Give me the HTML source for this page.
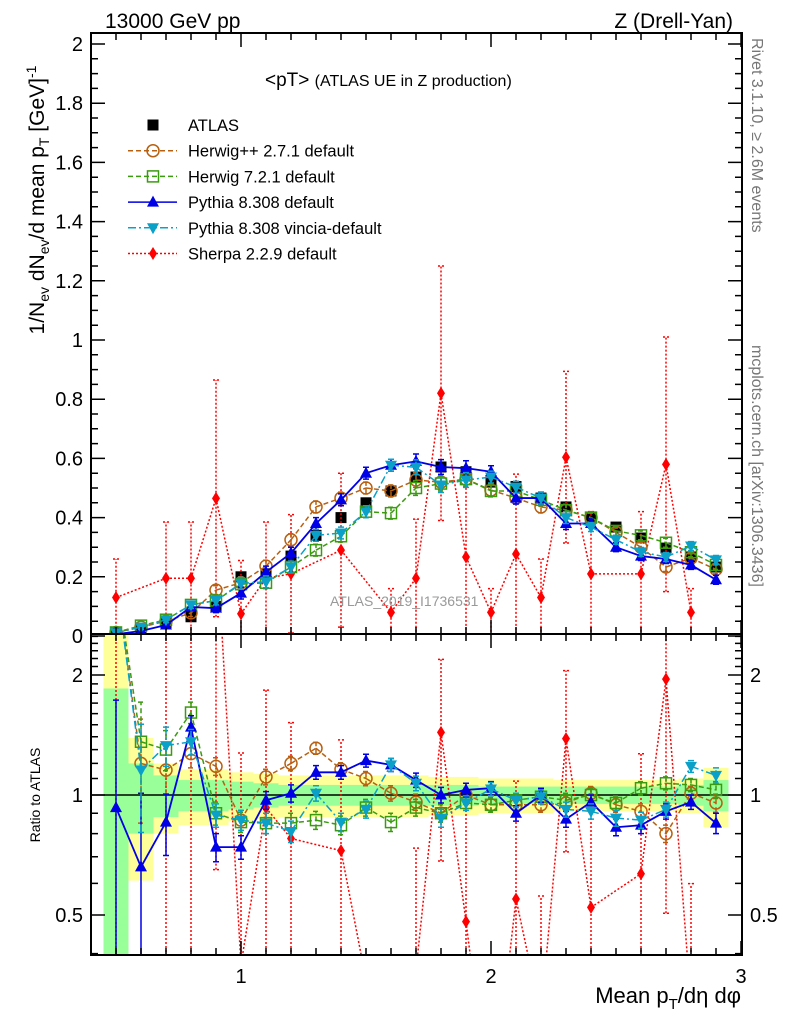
<!DOCTYPE html>
<html><head><meta charset="utf-8"><style>
html,body{margin:0;padding:0;background:#fff;width:786px;height:1024px;overflow:hidden}
svg{display:block;font-family:"Liberation Sans",sans-serif}
</style></head><body>
<svg id="c" width="786" height="1024" viewBox="0 0 786 1024">
<defs>
<clipPath id="cm"><rect x="91" y="33" width="651" height="601"/></clipPath>
<clipPath id="cr"><rect x="91" y="634" width="651" height="321"/></clipPath>
</defs>
<g id="bands" clip-path="url(#cr)"></g>
<g id="mainMarks" clip-path="url(#cm)"></g>
<g id="ratioMarks" clip-path="url(#cr)"></g>
<g id="axes"></g>
<text x="105" y="28" font-size="21">13000 GeV pp</text>
<text x="733" y="28" font-size="21" text-anchor="end">Z (Drell-Yan)</text>
<text x="265" y="86" font-size="19">&lt;pT&gt; <tspan font-size="16">(ATLAS UE in Z production)</tspan></text>
<text x="330" y="606" font-size="14" fill="#999">ATLAS_2019_I1736531</text>
<text transform="translate(44,200) rotate(-90)" font-size="21" text-anchor="middle">1/N<tspan font-size="14" dy="5">ev</tspan><tspan dy="-5"> dN</tspan><tspan font-size="14" dy="5">ev</tspan><tspan dy="-5">/d mean p</tspan><tspan font-size="14" dy="5">T</tspan><tspan dy="-5"> [GeV]</tspan><tspan font-size="14" dy="-8">-1</tspan></text>
<text transform="translate(40,795) rotate(-90)" font-size="14" text-anchor="middle">Ratio to ATLAS</text>
<text x="741" y="1003" font-size="22" text-anchor="end">Mean p<tspan font-size="15" dy="6">T</tspan><tspan dy="-6">/dη dφ</tspan></text>
<text transform="translate(752,38) rotate(90)" font-size="16" fill="#777">Rivet 3.1.10, ≥ 2.6M events</text>
<text transform="translate(752,345) rotate(90)" font-size="16" fill="#777">mcplots.cern.ch [arXiv:1306.3436]</text>
<g id="legend"></g>
</svg>
<script>
const xs=[0.5,0.6,0.7,0.8,0.9,1.0,1.1,1.2,1.3,1.4,1.5,1.6,1.7,1.8,1.9,2.0,2.1,2.2,2.3,2.4,2.5,2.6,2.7,2.8,2.9];
const atlas=[0.01,0.025,0.045,0.065,0.1,0.2,0.21,0.27,0.34,0.40,0.45,0.49,0.537,0.571,0.555,0.52,0.505,0.466,0.436,0.402,0.368,0.331,0.297,0.267,0.233];
const herwigpp=[0.012,0.03,0.05,0.078,0.155,0.18,0.236,0.325,0.436,0.466,0.5,0.49,0.527,0.52,0.53,0.493,0.466,0.436,0.425,0.40,0.35,0.30,0.233,0.263,0.225];
const herwig7=[0.012,0.035,0.055,0.105,0.12,0.175,0.18,0.233,0.29,0.337,0.42,0.415,0.5,0.515,0.53,0.49,0.49,0.46,0.425,0.40,0.355,0.34,0.315,0.283,0.24];
const pythia=[0.006,0.017,0.037,0.098,0.094,0.145,0.216,0.28,0.38,0.46,0.55,0.577,0.59,0.571,0.567,0.555,0.466,0.466,0.38,0.38,0.30,0.27,0.26,0.24,0.19];
const vincia=[0.011,0.03,0.055,0.105,0.12,0.178,0.183,0.233,0.34,0.348,0.42,0.577,0.57,0.51,0.527,0.537,0.503,0.466,0.40,0.368,0.325,0.284,0.267,0.304,0.257];
const sherpa=[0.13,null,0.195,0.195,0.465,0.075,0.195,0.21,null,0.29,null,0.08,0.195,0.82,0.267,0.08,0.277,0.13,0.604,0.21,null,0.21,0.58,0.08,null];
const sherpaErr=[0.13,0,0.19,0.19,0.4,0.18,0.19,0.2,0,0.26,0,0.08,0.2,0.43,0.26,0.08,0.27,0.13,0.29,0.21,0,0.21,0.43,0.08,0];
const mcErr=[0.006,0.008,0.01,0.012,0.015,0.02,0.02,0.02,0.02,0.02,0.02,0.02,0.025,0.025,0.025,0.02,0.02,0.02,0.02,0.015,0.015,0.015,0.015,0.015,0.015];
const herwigppRatio=[3.5,1.2,1.155,1.27,1.18,0.865,1.11,1.2,1.31,1.16,1.1,1.01,0.96,0.9,1.0,0.945,0.945,0.945,0.955,1.01,0.945,0.91,0.8,1.01,0.955];
const herwig7Ratio=[3.5,1.36,1.3,1.61,0.9,0.855,0.85,0.85,0.865,0.84,0.93,0.855,0.93,0.9,0.955,0.945,0.97,0.99,0.97,1.0,0.955,1.04,1.07,1.06,1.03];
const pythiaRatio=[0.93,0.66,0.855,1.48,0.74,0.74,0.97,1.01,1.14,1.14,1.22,1.19,1.09,1.0,1.03,1.04,0.9,1.0,0.87,0.96,0.83,0.84,0.91,0.96,0.85];
const vinciaRatio=[3.5,1.155,1.33,1.36,0.89,0.865,0.85,0.81,1.01,0.855,0.92,1.19,1.07,0.875,0.955,1.035,0.97,0.99,0.92,0.91,0.875,0.865,0.92,1.18,1.12];
const mcRatioErr=[0.8,0.35,0.15,0.1,0.06,0.05,0.05,0.05,0.045,0.045,0.045,0.045,0.045,0.045,0.04,0.04,0.04,0.04,0.04,0.04,0.04,0.04,0.04,0.04,0.05];
const bandTotal=[1.7,0.39,0.2,0.16,0.16,0.14,0.13,0.12,0.12,0.12,0.12,0.12,0.12,0.11,0.11,0.1,0.1,0.1,0.09,0.09,0.09,0.09,0.09,0.1,0.17];
const bandStat=[0.85,0.2,0.12,0.09,0.09,0.08,0.07,0.06,0.06,0.06,0.06,0.06,0.06,0.06,0.06,0.05,0.05,0.05,0.05,0.05,0.05,0.05,0.05,0.06,0.09];
const xTicks=[1,2,3];
const yTicksMain=[0,0.2,0.4,0.6,0.8,1,1.2,1.4,1.6,1.8,2];
const yTickLabelsMain=["0","0.2","0.4","0.6","0.8","1","1.2","1.4","1.6","1.8","2"];
const rTicks=[0.5,1,2];

const NS="http://www.w3.org/2000/svg";
const X=v=>91+250*(v-0.4);
const YM=v=>636-296*v;
const YR=r=>795-120*Math.log2(r);
const YMIN=2,YMAX=1020;
const cl=y=>Math.max(YMIN,Math.min(YMAX,y));
function mk(tag,attrs,parent){const e=document.createElementNS(NS,tag);for(const k in attrs)e.setAttribute(k,attrs[k]);parent.appendChild(e);return e;}
const gB=document.getElementById('bands'),gM=document.getElementById('mainMarks'),gR=document.getElementById('ratioMarks'),gA=document.getElementById('axes'),gL=document.getElementById('legend');

xs.forEach((x,i)=>{
  let r=mk('rect',{x:X(x-0.05),y:cl(YR(1+bandTotal[i])),width:25,height:cl(YR(Math.max(1-bandTotal[i],0.01)))-cl(YR(1+bandTotal[i])),fill:'#ffff99'},gB);
  
  
  let g=mk('rect',{x:X(x-0.05),y:cl(YR(1+bandStat[i])),width:25,height:cl(YR(Math.max(1-bandStat[i],0.01)))-cl(YR(1+bandStat[i])),fill:'#99ff99'},gB);
  
  
});
let one=mk('line',{x1:91,x2:742,y1:YR(1),y2:YR(1),stroke:'#000','stroke-width':1.5},gR);



function marker(type,cx,cy,color,parent){
  let e;
  if(type==='square') e=mk('rect',{x:cx-5.5,y:cy-5.5,width:11,height:11,fill:'#000'},parent);
  else if(type==='circle') e=mk('circle',{cx:cx,cy:cy,r:6,fill:'none',stroke:color,'stroke-width':1.5},parent);
  else if(type==='osquare') e=mk('rect',{x:cx-5.5,y:cy-5.5,width:11,height:11,fill:'none',stroke:color,'stroke-width':1.5},parent);
  else if(type==='tri') e=mk('polygon',{points:`${cx},${cy-6.5} ${cx-6},${cy+4.5} ${cx+6},${cy+4.5}`,fill:color},parent);
  else if(type==='itri') e=mk('polygon',{points:`${cx},${cy+6.5} ${cx-6},${cy-4.5} ${cx+6},${cy-4.5}`,fill:color},parent);
  else if(type==='diamond') e=mk('polygon',{points:`${cx},${cy-6.5} ${cx-4},${cy} ${cx},${cy+6.5} ${cx+4},${cy}`,fill:color},parent);
  return e;
}
// clip a segment to y in [YMIN,YMAX]
function clipSeg(a,b){
  let [x1,y1]=a,[x2,y2]=b;
  const lim=(p,q,yl)=>{const t=(yl-p[1])/(q[1]-p[1]);return [p[0]+t*(q[0]-p[0]),yl];};
  if((y1>YMAX&&y2>YMAX)||(y1<YMIN&&y2<YMIN))return null;
  let A=[x1,y1],B=[x2,y2];
  if(A[1]>YMAX)A=lim([x1,y1],[x2,y2],YMAX);
  if(A[1]<YMIN)A=lim([x1,y1],[x2,y2],YMIN);
  if(B[1]>YMAX)B=lim([x2,y2],[x1,y1],YMAX);
  if(B[1]<YMIN)B=lim([x2,y2],[x1,y1],YMIN);
  return [A,B];
}
function series(name,vals,errs,Y,color,dash,mtype,parent,width){
  const pts=[];xs.forEach((x,i)=>{if(vals[i]!=null)pts.push([X(x),Y(vals[i])]);});
  let d='';
  for(let k=0;k+1<pts.length;k++){const s=clipSeg(pts[k],pts[k+1]);if(s)d+=`M${s[0][0].toFixed(2)},${s[0][1].toFixed(2)}L${s[1][0].toFixed(2)},${s[1][1].toFixed(2)}`;}
  let p=mk('path',{d:d,fill:'none',stroke:color,'stroke-width':width||1.5,'stroke-dasharray':dash},parent);
  
  
  xs.forEach((x,i)=>{
    if(vals[i]==null)return;
    const cx=X(x),cy=Y(vals[i]);
    if(errs&&errs[i]>0){
      const lo=cl(Y(Math.max(vals[i]-errs[i],1e-3))),hi=cl(Y(vals[i]+errs[i]));
      if(!(lo<=YMIN&&hi<=YMIN)&&!(lo>=YMAX&&hi>=YMAX)){
        let e=mk('path',{d:`M${cx},${lo}V${hi}M${cx-3},${lo}h6M${cx-3},${hi}h6`,stroke:color,'stroke-width':1.5,fill:'none','stroke-dasharray':dash},parent);
        
        
      }
    }
    if(cy<YMIN||cy>YMAX)return;
    const m=marker(mtype,cx,cy,color,parent);
    
    
  });
}
const defs=[
 {n:'herwigpp',c:'#b86010',d:'5,3',m:'circle',v:herwigpp,r:herwigppRatio,l:'Herwig++ 2.7.1 default'},
 {n:'herwig7',c:'#3c9a10',d:'5,3',m:'osquare',v:herwig7,r:herwig7Ratio,l:'Herwig 7.2.1 default'},
 {n:'pythia',c:'#0000e6',d:'none',m:'tri',v:pythia,r:pythiaRatio,l:'Pythia 8.308 default'},
 {n:'vincia',c:'#0aa0c8',d:'8,3,2,3',m:'itri',v:vincia,r:vinciaRatio,l:'Pythia 8.308 vincia-default'},
];
xs.forEach((x,i)=>{
  const m=marker('square',X(x),YM(atlas[i]),'#000',gM);
  
  
});
const sherpaRatio=sherpa.map((v,i)=>v==null?null:v/atlas[i]);
const sherpaRatioErr=sherpaErr.map((e,i)=>e/atlas[i]);
series('sherpa',sherpa,sherpaErr,YM,'#ff0000','2,2','diamond',gM);
series('sherpa-ratio',sherpaRatio,sherpaRatioErr,YR,'#ff0000','2,2','diamond',gR);
defs.forEach(d=>{
  series(d.n,d.v,mcErr,YM,d.c,d.d,d.m,gM,d.n==='pythia'?1.8:1.5);
  series(d.n+'-ratio',d.r,mcRatioErr,YR,d.c,d.d,d.m,gR,d.n==='pythia'?1.8:1.5);
});

[[33,634],[634,955]].forEach(([t,b],k)=>{
  let f=mk('rect',{x:91,y:t,width:651,height:b-t,fill:'none',stroke:'#000','stroke-width':2},gA);
  
  
  let d='';
  for(let v=0.4;v<=3.0001;v+=0.1){const px=X(v);const maj=Math.abs(v-Math.round(v))<1e-6;const L=maj?14:7;d+=`M${px},${b}v${-L}M${px},${t}v${L}`;}
  let tk=mk('path',{d:d,stroke:'#000','stroke-width':1.5},gA);
  
  
});
xTicks.forEach(v=>{
  let t=mk('text',{x:X(v),y:983,'font-size':20,'text-anchor':'middle'},gA);t.textContent=v;
  
  
});
let dM='';
for(let k=0;k<=40;k++){const v=k*0.05;const py=YM(v);if(py<33)continue;const L=(k%4===0)?14:7;dM+=`M91,${py}h${L}M742,${py}h${-L}`;}
let tm=mk('path',{d:dM,stroke:'#000','stroke-width':1.5},gA);


yTicksMain.forEach((v,i)=>{
  let t=mk('text',{x:83,y:YM(v)+7,'font-size':20,'text-anchor':'end'},gA);t.textContent=yTickLabelsMain[i];
  
  
});
let dR='';
[0.4,0.5,0.6,0.7,0.8,0.9,1,1.1,1.2,1.3,1.4,1.5,1.6,1.7,1.8,1.9,2,2.1,2.2,2.3,2.4,2.5].forEach(v=>{
  const py=YR(v);if(py<634||py>955)return;const L=(v===0.5||v===1||v===2)?14:7;dR+=`M91,${py}h${L}M742,${py}h${-L}`;});
let tr=mk('path',{d:dR,stroke:'#000','stroke-width':1.5},gA);


rTicks.forEach(v=>{
  let t=mk('text',{x:83,y:YR(v)+7,'font-size':20,'text-anchor':'end'},gA);t.textContent=v;
  
  
  let t2=mk('text',{x:750,y:YR(v)+7,'font-size':20},gA);t2.textContent=v;
  
  
});
const leg=[{l:'ATLAS',m:'square',c:'#000',d:null}].concat(defs.map(d=>({l:d.l,m:d.m,c:d.c,d:d.d}))).concat([{l:'Sherpa 2.2.9 default',m:'diamond',c:'#ff0000',d:'2,2'}]);
leg.forEach((e,i)=>{
  const y=125+i*25.7;
  const g=mk('g',{},gL);
  
  
  if(e.d!==null) mk('line',{x1:128,x2:177,y1:y,y2:y,stroke:e.c,'stroke-width':1.5,'stroke-dasharray':e.d},g);
  marker(e.m,153,y,e.c,g);
  const t=mk('text',{x:188,y:y+6,'font-size':16.5},g);t.textContent=e.l;
});
</script>
</body></html>
